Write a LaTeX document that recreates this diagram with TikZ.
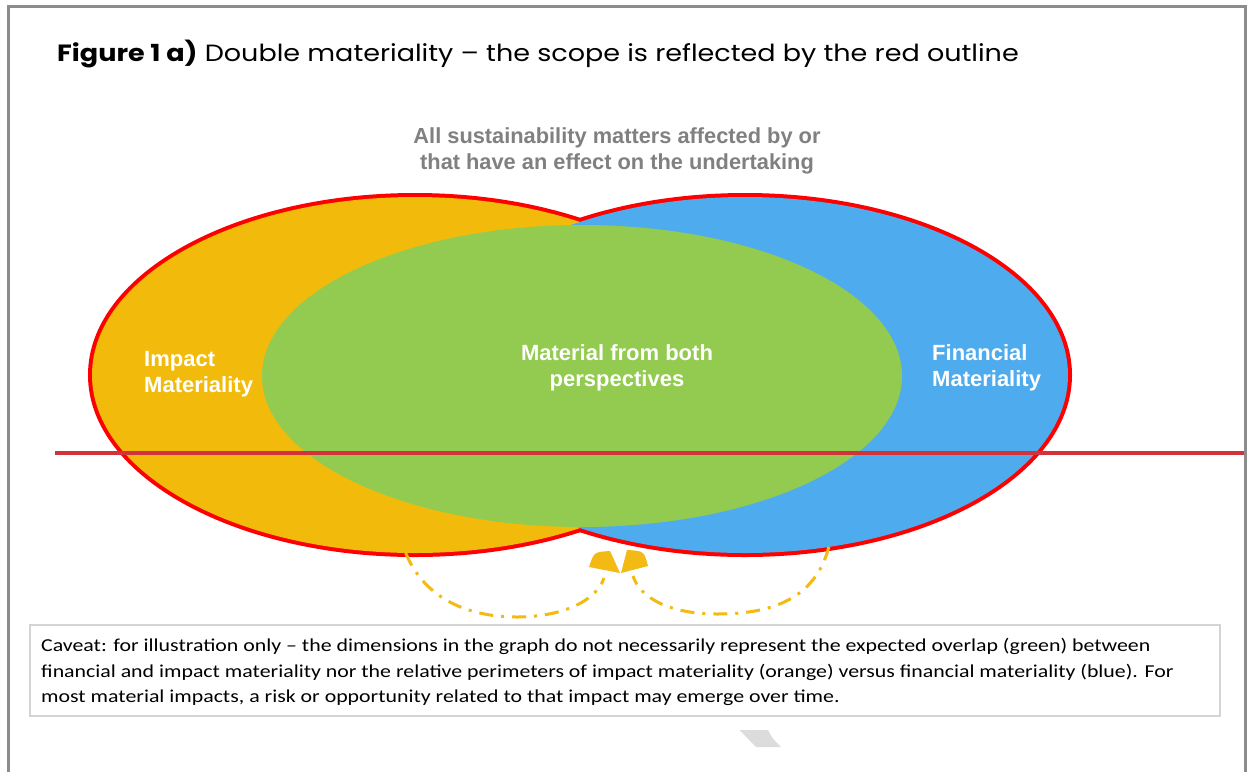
\documentclass[tikz,border=0pt]{standalone}
\usepackage{fontspec}
\setmainfont{Liberation Sans}
\newfontfamily\titlefont[FakeStretch=1.15]{Poppins}
\newfontfamily\cavfont[FakeStretch=1.2]{Carlito}
\usetikzlibrary{shapes.geometric}
\definecolor{impc}{HTML}{F2BB0C}
\definecolor{finc}{HTML}{4DABEE}
\definecolor{bothc}{HTML}{92CB4F}
\definecolor{outl}{HTML}{FF0000}
\definecolor{hline}{HTML}{D2323A}
\definecolor{scopegray}{HTML}{808080}
\definecolor{arrc}{HTML}{F2BA12}
\definecolor{framegray}{HTML}{8C8C8C}
\definecolor{boxgray}{HTML}{D4D4D4}
\definecolor{ghost}{HTML}{DCDCDC}
\begin{document}
\begin{tikzpicture}[x=1pt,y=-1pt,
  bigell/.style={ellipse, inner sep=0pt, outer sep=0pt, minimum width=646pt, minimum height=356pt},
  label/.style={text=white, font=\bfseries\fontsize{22}{26}\selectfont, inner sep=0pt},
  dashdot/.style={arrc, line width=3pt, dash pattern=on 14pt off 8pt on 3pt off 8pt},
  wedge/.style={fill=arrc}
]
\useasboundingbox (0,0) rectangle (1247,772);
\fill[white] (0,0) rectangle (1247,772);
% frame
\draw[framegray, line width=3pt] (8.5,772) -- (8.5,6.5) -- (1245.5,6.5) -- (1245.5,772);
% title
\node[anchor=base west, inner sep=0pt, font=\titlefont\fontsize{23.5}{28}\selectfont] (title) at (57,61)
  {\textbf{Figure 1 a)} Double materiality – the scope is reflected by the red outline};
% scope text
\node[align=center, text=scopegray, font=\bfseries\fontsize{21.8}{26}\selectfont, inner sep=0pt] (scope) at (617,151)
  {All sustainability matters affected by or\\that have an effect on the undertaking};
% ellipses with outlines
\node[bigell, draw=outl, line width=8pt, fill=impc] (imp) at (415,375) {};
\node[bigell, draw=outl, line width=8pt, fill=finc] (fin) at (745,375) {};
\fill[impc] (imp.center) ellipse [x radius=323, y radius=178];
\fill[finc] (fin.center) ellipse [x radius=323, y radius=178];
\node[ellipse, inner sep=0pt, minimum width=640pt, minimum height=302pt, fill=bothc] (both) at (582,376) {};
% horizontal red line
\coordinate (hl) at (55,453);
\coordinate (hr) at (1244,453);
\draw[hline, line width=3.5pt] (hl) -- (hr);
% labels
\node[label, anchor=west, align=left] (implab) at (144,374.5) {Impact\\Materiality};
\node[label, align=center] (bothlab) at (617,368) {Material from both\\perspectives};
\node[label, anchor=west, align=left] (finlab) at (932,368) {Financial\\Materiality};
% dash-dot arrows
\coordinate (le) at (604,578);
\coordinate (re) at (633,576);
\draw[dashdot] (imp.267) .. controls (425,600) and (470,617) .. (517,617) .. controls (560,617) and (596,602) .. (le);
\draw[dashdot] (fin.296) .. controls (815,600) and (770,614) .. (717,614) .. controls (670,614) and (640,598) .. (re);
\fill[wedge] (620,573) -- (589,567) .. controls (594,552) .. (610,551) -- cycle;
\fill[wedge] (621,573) -- (627,550) .. controls (644,551) .. (648,566) -- cycle;
% caveat box
\node[draw=boxgray, line width=1.2pt, minimum width=1190pt, minimum height=91pt, inner sep=0pt] (cav) at (625,670.5) {};
\node[anchor=west, align=left, inner sep=0pt, font=\cavfont\fontsize{18.2}{25.5}\selectfont] (cavtext) at (41,672)
  {Caveat: for illustration only – the dimensions in the graph do not necessarily represent the expected overlap (green) between\\
   financial and impact materiality nor the relative perimeters of impact materiality (orange) versus financial materiality (blue). For\\
   most material impacts, a risk or opportunity related to that impact may emerge over time.};
% faint grey mark
\fill[ghost] (739.5,730) -- (768,730) .. controls (772,738) .. (781,747) -- (756,747) -- cycle;
\end{tikzpicture}
\end{document}
